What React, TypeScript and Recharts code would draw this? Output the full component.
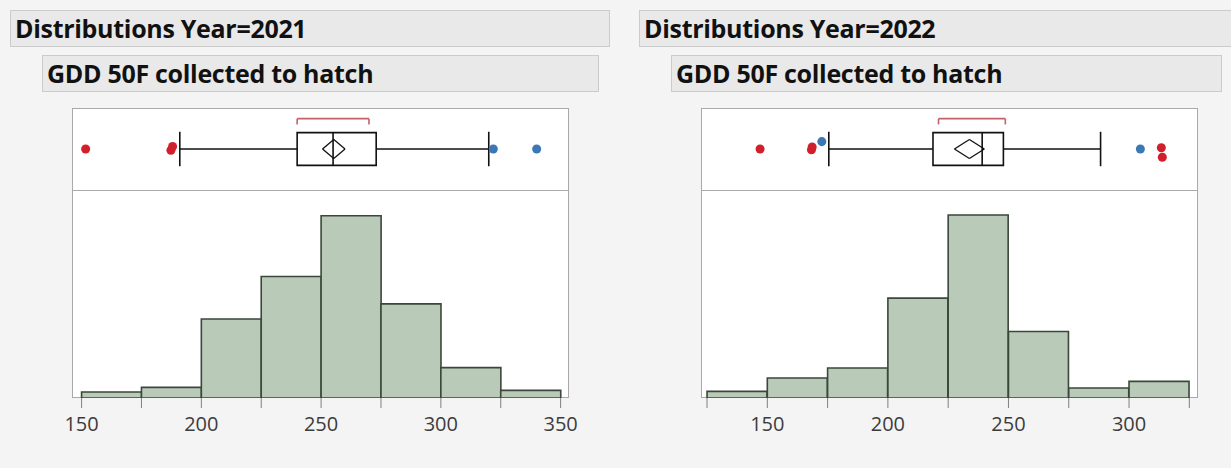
import React from 'react'
import { Bar, BarChart, ReferenceArea, ReferenceLine, Scatter, ScatterChart, XAxis, YAxis } from 'recharts'

// histogram bins are 25 GDD wide
const BIN = 25

// Year 2021
const binStarts2021 = [150, 175, 200, 225, 250, 275, 300, 325]
const counts2021 = [4, 7, 52, 80, 120, 62, 20, 5]
const ticks2021 = [150, 175, 200, 225, 250, 275, 300, 325, 350]
const box2021 = [191, 240, 255, 273, 320] // whisker low, q1, median, q3, whisker high
const mean2021 = [255.3, 4.7] // mean, half width of the 95% interval
const shortest2021 = [240, 270]
const outliers2021 = [151.7, 187.3, 188, 321.9, 340]
const jitter2021 = [0, -0.03, 0.06, 0, 0]
const outlierGroup2021 = ['low', 'low', 'low', 'high', 'high']

// Year 2022
const binStarts2022 = [125, 150, 175, 200, 225, 250, 275, 300]
const counts2022 = [2, 6, 9, 30, 55, 20, 3, 5]
const ticks2022 = [125, 150, 175, 200, 225, 250, 275, 300, 325]
const box2022 = [175.5, 218.7, 239.1, 247.9, 288.2]
const mean2022 = [233.8, 6.2]
const shortest2022 = [221, 248.7]
const outliers2022 = [147, 168.3, 168.6, 172.6, 304.7, 313.4, 313.8]
const jitter2022 = [0, -0.02, 0.05, 0.18, 0, 0.03, -0.2]
const outlierGroup2022 = ['low', 'low', 'low', 'high', 'high', 'low', 'low']

const PLOT_W = 497
const BOX_H = 82
const HIST_H = 208
const AXIS_H = 45
const SIDE = 30 // room either side of the histogram for the end tick labels
const FRAME = '#a9a9a9'
const RED = '#d21f2c'
const BLUE = '#3b78b5'
const FONT = '"Open Sans", "Noto Sans", sans-serif'

type PanelProps = {
  left: number
  year: string
  headerWidth: number
  subWidth: number
  domain: [number, number]
  yMax: number
  binStarts: number[]
  counts: number[]
  ticks: number[]
  box: number[]
  mean: number[]
  shortest: number[]
  outliers: number[]
  jitter: number[]
  groups: string[]
}

const seg = (x1: number, y1: number, x2: number, y2: number) => [
  { x: x1, y: y1 },
  { x: x2, y: y2 },
]

const Panel = (p: PanelProps) => {
  // bars sit on a numeric axis, centred on each bin's midpoint
  const histData = p.binStarts.map((s, i) => ({ mid: s + BIN / 2, count: p.counts[i] }))
  const pts = p.outliers.map((x, i) => ({ x, y: p.jitter[i], g: p.groups[i] }))
  const lowPts = pts.filter((d) => d.g === 'low')
  const highPts = pts.filter((d) => d.g === 'high')
  const [wLo, q1, med, q3, wHi] = p.box
  const [mu, ci] = p.mean
  const line = { stroke: '#111', strokeWidth: 1.6, ifOverflow: 'visible' as const }
  const bracket = { stroke: '#c4606c', strokeWidth: 1.6, ifOverflow: 'visible' as const }

  return (
    <>
      <div style={{ ...header, left: p.left - 62, top: 10, width: p.headerWidth }}>Distributions Year={p.year}</div>
      <div style={{ ...header, left: p.left - 30, top: 55, width: p.subWidth }}>GDD 50F collected to hatch</div>

      <div
        style={{
          position: 'absolute',
          left: p.left,
          top: 108,
          width: PLOT_W - 2,
          height: BOX_H + HIST_H - 2,
          border: `1px solid ${FRAME}`,
          background: '#fff',
        }}
      />
      <div style={{ position: 'absolute', left: p.left, top: 108 + BOX_H, width: PLOT_W, height: 1, background: FRAME }} />

      <div style={{ position: 'absolute', left: p.left, top: 108 }}>
        <ScatterChart width={PLOT_W} height={BOX_H} margin={{ top: 0, right: 0, bottom: 0, left: 0 }}>
          <XAxis type="number" dataKey="x" domain={p.domain} allowDataOverflow hide />
          <YAxis type="number" dataKey="y" domain={[-1, 1]} allowDataOverflow hide />
          <ReferenceArea x1={q1} x2={q3} y1={-0.4} y2={0.4} fill="none" stroke="#111" strokeWidth={1.6} fillOpacity={0} />
          <ReferenceLine segment={seg(wLo, 0, q1, 0)} {...line} />
          <ReferenceLine segment={seg(q3, 0, wHi, 0)} {...line} />
          <ReferenceLine segment={seg(wLo, -0.42, wLo, 0.42)} {...line} />
          <ReferenceLine segment={seg(wHi, -0.42, wHi, 0.42)} {...line} />
          <ReferenceLine segment={seg(med, -0.4, med, 0.4)} {...line} />
          <ReferenceLine segment={seg(mu - ci, 0, mu, 0.23)} {...line} strokeWidth={1.3} />
          <ReferenceLine segment={seg(mu, 0.23, mu + ci, 0)} {...line} strokeWidth={1.3} />
          <ReferenceLine segment={seg(mu + ci, 0, mu, -0.23)} {...line} strokeWidth={1.3} />
          <ReferenceLine segment={seg(mu, -0.23, mu - ci, 0)} {...line} strokeWidth={1.3} />
          <ReferenceLine segment={seg(p.shortest[0], 0.74, p.shortest[1], 0.74)} {...bracket} />
          <ReferenceLine segment={seg(p.shortest[0], 0.74, p.shortest[0], 0.6)} {...bracket} />
          <ReferenceLine segment={seg(p.shortest[1], 0.74, p.shortest[1], 0.6)} {...bracket} />
          <Scatter data={lowPts} fill={RED} isAnimationActive={false} />
          <Scatter data={highPts} fill={BLUE} isAnimationActive={false} />
        </ScatterChart>
      </div>

      <div style={{ position: 'absolute', left: p.left - SIDE, top: 108 + BOX_H }}>
        <BarChart
          width={PLOT_W + 2 * SIDE}
          height={HIST_H + AXIS_H}
          data={histData}
          barCategoryGap={0}
          barGap={0}
          margin={{ top: 0, right: SIDE, bottom: 0, left: SIDE }}
        >
          <XAxis
            dataKey="mid"
            type="number"
            domain={p.domain}
            allowDataOverflow
            ticks={p.ticks}
            interval={0}
            height={AXIS_H}
            axisLine={false}
            tickLine={{ stroke: '#808080' }}
            tickSize={10}
            tickMargin={9}
            tickFormatter={(v: number) => (v % 50 === 0 ? String(v) : '')}
            tick={{ fill: '#3c3c3c', fontSize: 20, fontFamily: FONT }}
          />
          <YAxis domain={[0, p.yMax]} allowDataOverflow hide />
          <Bar dataKey="count" fill="#b9cab9" stroke="#3a473a" strokeWidth={1.6} isAnimationActive={false} />
        </BarChart>
      </div>
    </>
  )
}

const header: React.CSSProperties = {
  position: 'absolute',
  height: 35,
  lineHeight: '35px',
  background: '#e9e9e9',
  border: '1px solid #cbcbcb',
  paddingLeft: 4,
  boxSizing: 'content-box',
  fontFamily: FONT,
  fontWeight: 700,
  fontSize: 25,
  letterSpacing: -0.3,
  color: '#111',
  whiteSpace: 'nowrap',
  overflow: 'hidden',
}

export default function App() {
  return (
    <div
      style={{
        position: 'fixed',
        left: 0,
        top: 0,
        width: 1231,
        height: 468,
        background: '#f4f4f4',
        overflow: 'hidden',
      }}
    >
      <Panel
        left={72}
        year="2021"
        headerWidth={594}
        subWidth={551}
        domain={[146, 353.5]}
        yMax={137}
        binStarts={binStarts2021}
        counts={counts2021}
        ticks={ticks2021}
        box={box2021}
        mean={mean2021}
        shortest={shortest2021}
        outliers={outliers2021}
        jitter={jitter2021}
        groups={outlierGroup2021}
      />
      <Panel
        left={701}
        year="2022"
        headerWidth={600}
        subWidth={545}
        domain={[122.5, 328.6]}
        yMax={62.5}
        binStarts={binStarts2022}
        counts={counts2022}
        ticks={ticks2022}
        box={box2022}
        mean={mean2022}
        shortest={shortest2022}
        outliers={outliers2022}
        jitter={jitter2022}
        groups={outlierGroup2022}
      />
    </div>
  )
}
